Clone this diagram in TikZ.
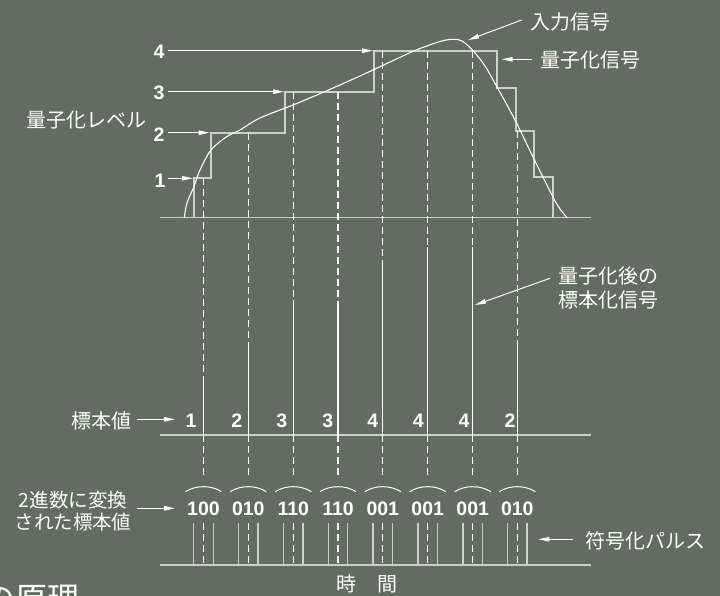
\documentclass[tikz,border=0pt]{standalone}
\usepackage{fontspec}
\setmainfont{Noto Sans CJK JP}
\newfontfamily\jp{Noto Sans CJK JP}
\newfontfamily\num{Liberation Sans}
\usetikzlibrary{arrows.meta}
\definecolor{bg}{RGB}{101,106,100}
\definecolor{ax}{RGB}{205,207,203}
\begin{document}
\begin{tikzpicture}[x=1pt,y=-1pt,
  jtext/.style={font=\jp\fontsize{20}{24}\selectfont, text=white, inner sep=0pt},
  ntext/.style={font=\num\bfseries\fontsize{19.5}{22}\selectfont, text=white, inner sep=0pt},
  arr/.style={white, line width=1pt, -{Triangle[length=11pt,width=4.5pt]}},
  axisline/.style={ax, line width=1.6pt},
  stair/.style={ax, line width=1.8pt},
  samp/.style={white, line width=1.3pt},
  dsh/.style={white, line width=1.2pt, dash pattern=on 7pt off 4pt},
  pulse/.style={ax, line width=1.3pt},
  arcline/.style={white, line width=1pt}]

\fill[bg] (0,0) rectangle (720,596);
\useasboundingbox (0,0) rectangle (720,596);

% axes
\coordinate (t0) at (160,217.7); \coordinate (t1) at (591,217.7);
\coordinate (m0) at (160,435);   \coordinate (m1) at (591,435);
\coordinate (b0) at (160,565);   \coordinate (b1) at (591,565);
\draw[axisline] (t0) -- (t1);
\draw[axisline] (m0) -- (m1);
\draw[axisline] (b0) -- (b1);

% quantized staircase
\draw[stair] (194,217.7) |- (210.7,178.3) |- (285,132.7) |- (374,91.7) |- (496.7,50.7)
  |- (515.7,88.3) |- (533.7,131) |- (553.3,177.3) -- (553.3,217.7);

% input signal curve
\draw[white, line width=1.1pt] plot[smooth, tension=0.55] coordinates {
  (184.3,217.7) (187,203) (194,186.5) (200,170) (211,150) (226.7,136.7) (240,130)
  (260,118) (293,105) (325,91.5) (360,76) (390,62) (415,50.5) (440,41.5) (453,39.3)
  (462,41) (473,50.7) (485,66) (497,87) (515,120) (533,157) (553,197) (560,209) (567,217.7)};

% level labels and arrows
\node[ntext] (l4) at (159,52) {4};
\node[ntext] (l3) at (159,93) {3};
\node[ntext] (l2) at (159,134.5) {2};
\node[ntext] (l1) at (160,180.5) {1};
\coordinate (l4s) at (168.3,50.7);  \coordinate (l4e) at (373,50.7);
\coordinate (l3s) at (168.3,91.7);  \coordinate (l3e) at (284,91.7);
\coordinate (l2s) at (168.3,132.7); \coordinate (l2e) at (209.5,132.7);
\coordinate (l1s) at (168.3,178.3); \coordinate (l1e) at (193,178.3);
\draw[arr] (l4s) -- (l4e);
\draw[arr] (l3s) -- (l3e);
\draw[arr] (l2s) -- (l2e);
\draw[arr] (l1s) -- (l1e);
\node[jtext] (qlev) at (86,120) {量子化レベル};

% samples
\foreach \i/\x/\t/\s/\v/\lx/\c in {
  1/203.5/178.3/378.3/1/191/100,
  2/248.3/132.7/345/2/236.7/010,
  3/293.3/91.7/300/3/281.7/110,
  4/338/91.7/300.7/3/327.7/110,
  5/382.8/50.7/261.7/4/372.7/001,
  6/427.7/50.7/246.7/4/418.3/001,
  7/472.7/50.7/246.7/4/464/001,
  8/517.3/131/346.7/2/510/010} {
  \draw[dsh] (\x,\t) -- (\x,\s);
  \draw[samp] (\x,\s) -- (\x,435);
  \node[ntext] (v\i) at (\lx,421) {\v};
  \draw[dsh] (\x,435) -- (\x,475);
  \draw[arcline] (\x-18,491.7) .. controls (\x-8,485) and (\x+8,485) .. (\x+18,491.7);
  \node[ntext] (c\i) at (\x,508.3) {\c};
  \draw[pulse] (\x-9.7,523.3) -- (\x-9.7,565);
  \draw[pulse] (\x+9.7,523.3) -- (\x+9.7,565);
  \draw[dsh] (\x,523.3) -- (\x,565);
}

% annotations
\node[jtext] (inp) at (570,21.7) {入力信号};
\coordinate (inpT) at (521.7,20); \coordinate (inpH) at (468.3,40);
\draw[arr] (inpT) -- (inpH);

\node[jtext] (qsig) at (590,60) {量子化信号};
\coordinate (qsT) at (531.7,59.3); \coordinate (qsH) at (501.7,59.3);
\draw[arr] (qsT) -- (qsH);

\node[jtext, align=left, anchor=west] (qsamp) at (558.3,288) {量子化後の\\標本化信号};
\coordinate (qaT) at (550,278.3); \coordinate (qaH) at (475,305);
\draw[arr] (qaT) -- (qaH);

\node[jtext] (hyo) at (101,421) {標本値};
\coordinate (hyT) at (136.7,419.3); \coordinate (hyH) at (175,419.3);
\draw[arr] (hyT) -- (hyH);

\node[jtext, font=\jp\fontsize{19.5}{21.7}\selectfont, align=center] (bin) at (73,511) {2進数に変換\\された標本値};
\coordinate (biT) at (136.7,508.3); \coordinate (biH) at (175,508.3);
\draw[arr] (biT) -- (biH);

\node[jtext] (fugo) at (645,541) {符号化パルス};
\coordinate (fuT) at (573.3,539.3); \coordinate (fuH) at (538.3,539.3);
\draw[arr] (fuT) -- (fuH);

\node[jtext] (ji) at (346,584) {時};
\node[jtext] (kan) at (387.5,584) {間};

\node[jtext, font=\jp\fontsize{32}{36}\selectfont, anchor=base east] (title) at (80,610) {の原理};
\end{tikzpicture}
\end{document}
